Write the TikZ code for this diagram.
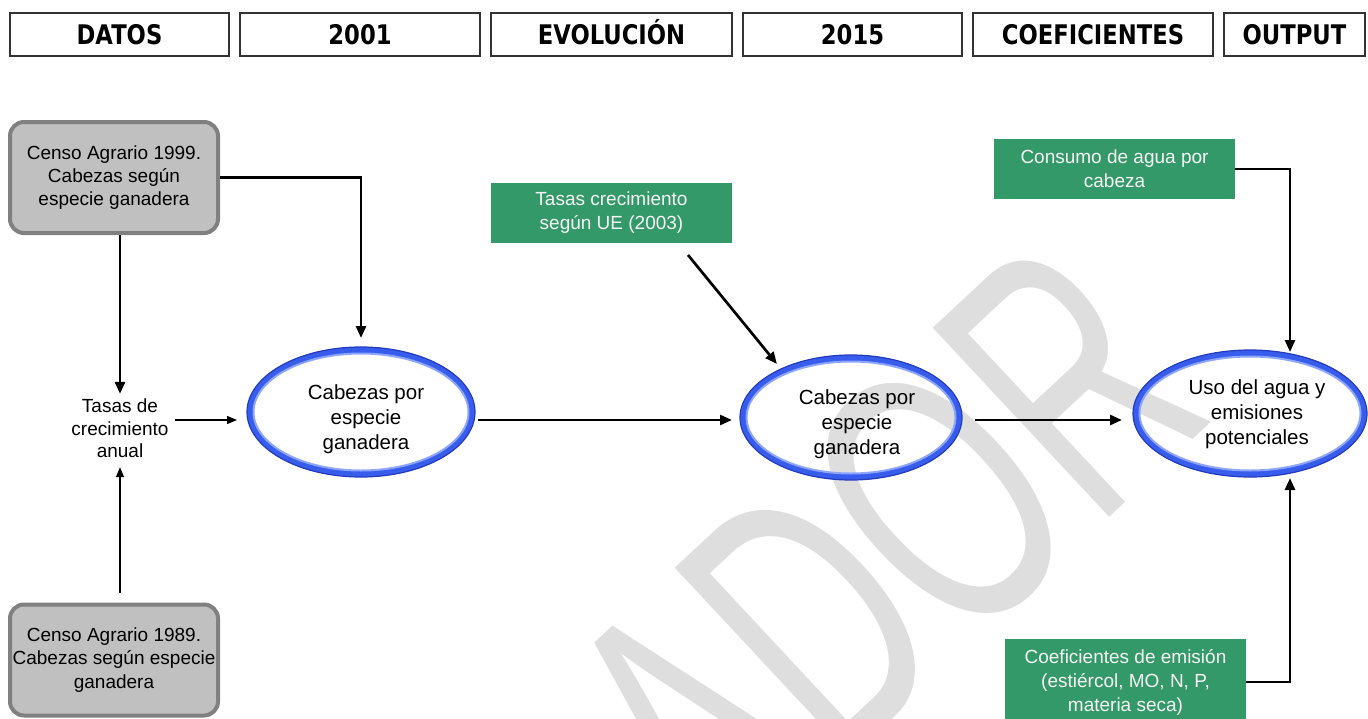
\documentclass[tikz,border=0pt]{standalone}
\usepackage{graphicx}
\usepackage{fontspec}
\setmainfont{Liberation Sans}
\newfontfamily\hdrfont{DejaVu Sans}
\usetikzlibrary{arrows.meta,shapes.geometric}
\definecolor{wmc}{RGB}{222,222,222}
\definecolor{grn}{RGB}{52,153,104}
\definecolor{gfill}{RGB}{192,192,192}
\definecolor{gedge}{RGB}{128,128,128}
\definecolor{ringc}{RGB}{56,92,235}
\definecolor{ringl}{RGB}{140,165,255}
\definecolor{ringd}{RGB}{35,60,190}
\definecolor{gtext}{RGB}{245,245,245}
\newcommand\hdrtxt[1]{\scalebox{0.84}[1]{\hdrfont\bfseries #1}}
\begin{document}
\begin{tikzpicture}[x=1pt,y=-1pt,
  hdr/.style={draw=black!80, line width=1.3pt, minimum height=43pt, inner sep=0pt, text height=19.7pt, text depth=0pt, font=\fontsize{27}{30}\selectfont},
  greybox/.style={draw=gedge, fill=gfill, line width=4pt, rounded corners=14pt, minimum width=208pt, minimum height=111pt, inner sep=0pt, align=center, font=\fontsize{19}{23.3}\selectfont},
  greenbox/.style={fill=grn, text=gtext, minimum width=241pt, minimum height=60pt, inner sep=0pt, align=center, font=\fontsize{19}{24}\selectfont},
  ell/.style={ellipse, draw=ringc, line width=6pt, inner sep=0pt},
  elltext/.style={align=center, inner sep=0pt, font=\fontsize{20.5}{25}\selectfont},
  plain/.style={align=center, inner sep=1pt, font=\fontsize{19}{22.5}\selectfont},
  thk/.style={line width=2.7pt, -{Triangle[length=12pt,width=10pt]}},
  thn/.style={line width=1.3pt, -{Triangle[length=10pt,width=8pt]}},
  hiL/.style={draw=ringl, line width=2pt},
  hiD/.style={draw=ringd, line width=1.2pt},
]
\useasboundingbox (0,0) rectangle (1368,718);
% watermark
\begin{scope}
\clip (0,0) rectangle (1368,718);
\node[rotate=43, anchor=base west, inner sep=0pt, text=wmc, font=\fontsize{235}{235}\selectfont] (wmark) at (226,1341) {\scalebox{1}[1.6]{BORRADOR}};
\end{scope}
% headers
\node[hdr, minimum width=219pt] (h1) at (119.5,34.5) {\hdrtxt{DATOS}};
\node[hdr, minimum width=240pt] (h2) at (360,34.5) {\hdrtxt{2001}};
\node[hdr, minimum width=241pt] (h3) at (611.5,34.5) {\hdrtxt{EVOLUCIÓN}};
\node[hdr, minimum width=219pt] (h4) at (852.5,34.5) {\hdrtxt{2015}};
\node[hdr, minimum width=240pt] (h5) at (1093,34.5) {\hdrtxt{COEFICIENTES}};
\node[hdr, minimum width=141pt] (h6) at (1294.5,34.5) {\hdrtxt{OUTPUT}};
% grey boxes
\node[greybox] (g1) at (114,177.5) {Censo Agrario 1999.\\Cabezas según\\especie ganadera};
\node[greybox] (g2) at (114,660) {Censo Agrario 1989.\\Cabezas según especie\\ganadera};
\node[plain] (tas) at (120,428.5) {Tasas de\\crecimiento\\anual};
% green boxes
\node[greenbox] (gr1) at (611.5,213) {Tasas crecimiento\\según UE (2003)};
\node[greenbox] (gr2) at (1114.5,169) {Consumo de agua por\\cabeza};
\node[greenbox, minimum height=86pt] (gr3) at (1125.5,682) {Coeficientes de emisión\\(estiércol, MO, N, P,\\materia seca)};
% ellipses
\node[ell, minimum width=222pt, minimum height=124pt] (e1) at (361,412) {};
\node[ell, minimum width=216pt, minimum height=119pt] (e2) at (851,417.5) {};
\node[ell, minimum width=228pt, minimum height=121pt] (e3) at (1250,413.5) {};
\draw[hiL] (e1.center) ellipse [x radius=107.5, y radius=58.5];
\draw[hiD] (e1.center) ellipse [x radius=114, y radius=65];
\draw[hiL] (e2.center) ellipse [x radius=104.5, y radius=56];
\draw[hiD] (e2.center) ellipse [x radius=111, y radius=62.5];
\draw[hiL] (e3.center) ellipse [x radius=110.5, y radius=57];
\draw[hiD] (e3.center) ellipse [x radius=117, y radius=63.5];
\node[elltext] (e1t) at (366,419) {Cabezas por\\especie\\ganadera};
\node[elltext] (e2t) at (857,424) {Cabezas por\\especie\\ganadera};
\node[elltext] (e3t) at (1257,414) {Uso del agua y\\emisiones\\potenciales};
% connectors
\draw[thk, shorten >=4pt] (g1.south -| tas.north) -- (tas.north);
\draw[thn, shorten <=10pt, shorten >=8pt] (g2.north -| tas.south) -- (tas.south);
\coordinate (t1) at ([yshift=8.5pt]tas.east);
\draw[thn, shorten <=5pt, shorten >=10pt] (t1) -- (t1 -| e1.west);
\draw[thk, shorten >=9pt] (g1.east) -| (e1.north);
\draw[thk, shorten <=3pt, shorten >=8pt] (e1.east |- 0,420) -- (e2.west |- 0,420);
\draw[thk, shorten <=13pt, shorten >=11pt] (e2.east |- 0,420) -- (e3.west |- 0,420);
\coordinate (c7a) at (688,255);
\coordinate (c7b) at (777,364);
\draw[thk] (c7a) -- (c7b);
\coordinate (c8) at (1290,352);
\draw[thk] (gr2.east) -| (c8);
\coordinate (c9) at (1290,478);
\draw[thk] (gr3.east) -| (c9);
\end{tikzpicture}
\end{document}
